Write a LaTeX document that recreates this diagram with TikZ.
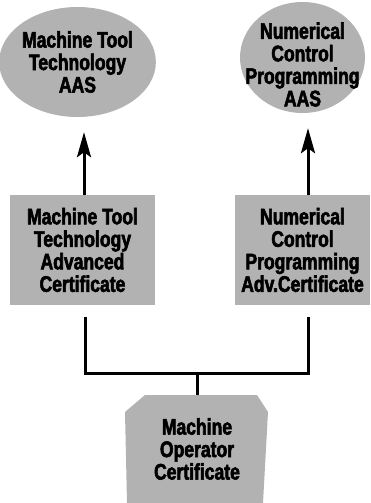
\documentclass[tikz,border=0pt]{standalone}
\usepackage{fontspec}
\setmainfont{Liberation Sans}[BoldFeatures={FakeStretch=0.78,FakeBold=2.5}]
\usetikzlibrary{arrows.meta,shapes.geometric,positioning}
\definecolor{dotgray}{gray}{0.70}

\begin{document}
\begin{tikzpicture}[x=1pt, y=-1pt, >=Stealth,
	   font=\fontsize{22.5}{22.5}\selectfont\bfseries,
	   oval/.style={ellipse, fill=dotgray, inner sep=0pt},
	   b/.style={fill=dotgray, align=center, inner sep=0pt, minimum height=110pt},
	   txt/.style={align=center, inner sep=0pt},
	   conn/.style={line width=3pt},
	   arr/.style={conn, -{Stealth[length=25pt, width=14pt, inset=5pt]}, shorten >=15pt}]
	  \useasboundingbox (0,0) rectangle (370,503);
	  \node[oval, minimum width=129pt, minimum height=110pt, align=center] (mtaas) at (77.5,62) {Machine Tool\\ Technology\\ AAS};
	  \node[oval, minimum width=125pt, minimum height=111pt] (ncaas) at (302.5,57.5) {};
	  \node[txt] (ncaastxt) at ([yshift=-7pt]ncaas.center) {Numerical\\ Control\\ Programming\\ AAS};
	  \node[b, minimum width=145pt] (mtcert) at (82.5,250) {Machine Tool\\ Technology\\ Advanced\\ Certificate};
	  \node[b, minimum width=135pt] (nccert) at (302.5,250) {Numerical\\ Control\\ Programming\\ Adv.Certificate};
	  % bottom shape drawn by hand
	  \fill[dotgray] (145,395) -- (257,395) -- (268,412) -- (263,503) -- (127,503) -- (125,412) -- cycle;
	  \node[txt, minimum height=108pt] (moc) at (197,449) {Machine\\ Operator\\ Certificate};
	  \coordinate (jn) at (197,373);
	  \draw[arr] ([xshift=1.5pt]mtcert.north) -- ([xshift=1.5pt]mtcert.north |- mtaas.south);
	  \draw[arr] ([xshift=5.5pt]nccert.north) -- ([xshift=5.5pt]nccert.north |- ncaas.south);
	  \draw[conn, shorten <=12pt, shorten >=12pt] ([xshift=2.5pt]mtcert.south) |- (jn) -| ([xshift=5.5pt]nccert.south);
	  \draw[conn] (jn) -- (moc.north);
	\end{tikzpicture}
\end{document}
